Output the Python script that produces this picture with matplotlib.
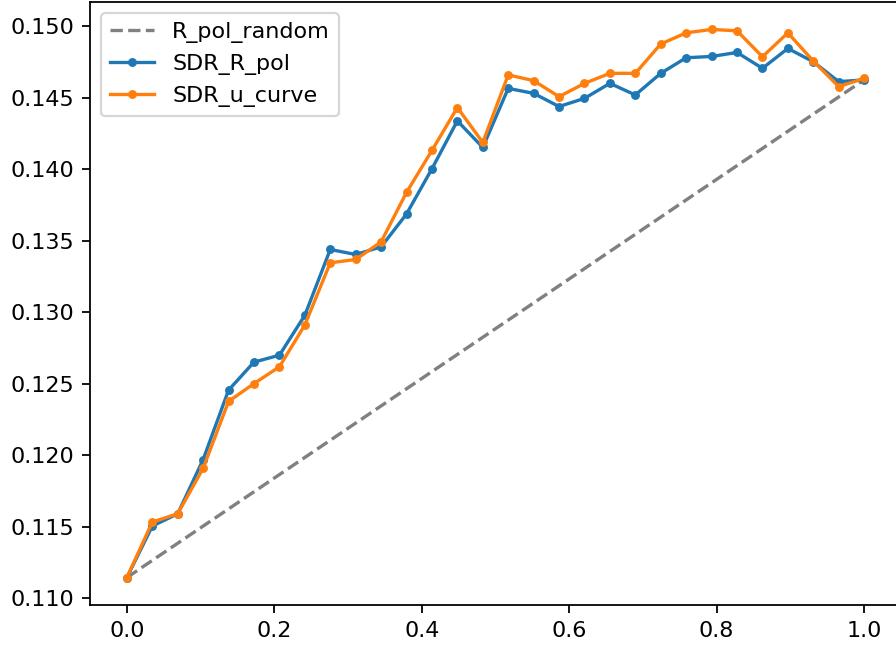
import numpy as np
import matplotlib
matplotlib.use("Agg")
import matplotlib.pyplot as plt

# fraction of the ranking axis
x = np.linspace(0.0, 1.0, 30)

sdr_r_pol = [0.11146, 0.11506, 0.11592, 0.11971, 0.12456, 0.12652, 0.12700,
             0.12979, 0.13439, 0.13404, 0.13457, 0.13687, 0.14003, 0.14338,
             0.14152, 0.14565, 0.14530, 0.14438, 0.14495, 0.14600, 0.14519,
             0.14670, 0.14779, 0.14788, 0.14816, 0.14705, 0.14844, 0.14751,
             0.14612, 0.14624]

sdr_u_curve = [0.11146, 0.11534, 0.11592, 0.11910, 0.12377, 0.12502, 0.12619,
               0.12911, 0.13346, 0.13369, 0.13492, 0.13838, 0.14131, 0.14431,
               0.14187, 0.14659, 0.14619, 0.14507, 0.14600, 0.14670, 0.14670,
               0.14875, 0.14953, 0.14977, 0.14967, 0.14786, 0.14953, 0.14756,
               0.14577, 0.14635]

# random baseline: straight line between the end points
random_x = [0.0, 1.0]
random_y = [0.11146, 0.14625]

DPI = 160
fig = plt.figure(figsize=(896 / DPI, 645 / DPI), dpi=DPI)
ax = fig.add_axes([90 / 896, 40 / 645, 811 / 896, 603 / 645])

ax.plot(random_x, random_y, "--", color="grey", label="R_pol_random")
ax.plot(x, sdr_r_pol, ".-", color="tab:blue", label="SDR_R_pol")
ax.plot(x, sdr_u_curve, ".-", color="tab:orange", label="SDR_u_curve")

ax.legend(loc="upper left")

fig.savefig("out.png", dpi=DPI)
